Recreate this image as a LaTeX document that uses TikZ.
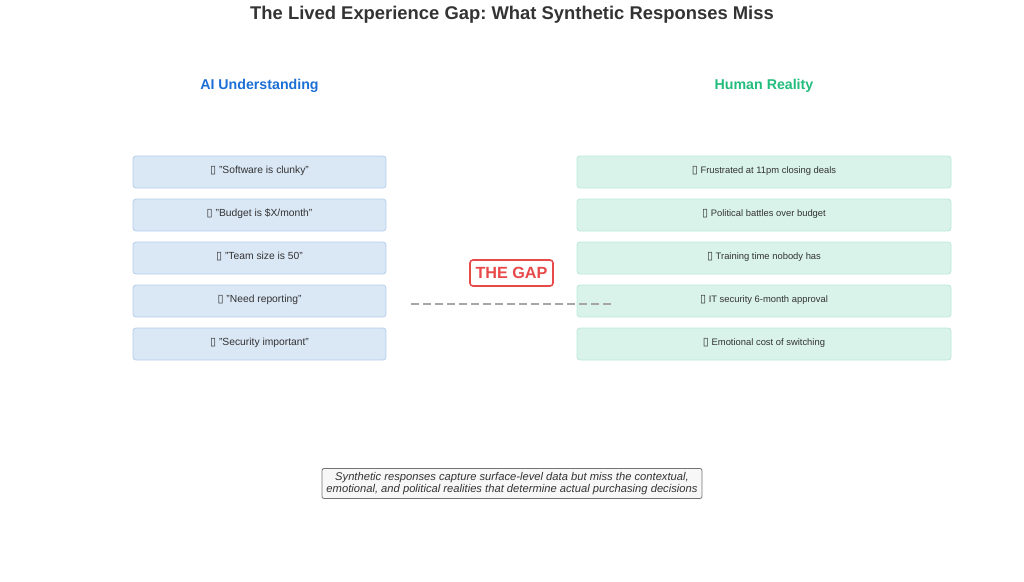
\documentclass[tikz,border=0pt]{standalone}
\usepackage{fontspec}
\setmainfont{Liberation Sans}
\newfontfamily\symfont{DejaVu Sans}
\usetikzlibrary{calc}
\frenchspacing
\definecolor{titlegray}{HTML}{333333}
\definecolor{aiblue}{HTML}{1C6FD6}
\definecolor{humangreen}{HTML}{22BC7C}
\definecolor{aifill}{HTML}{DAE7F5}
\definecolor{aiedge}{HTML}{B5CEEA}
\definecolor{humanfill}{HTML}{D9F3EA}
\definecolor{humanedge}{HTML}{BCE8D6}
\definecolor{gapred}{HTML}{E84A4A}
\definecolor{notefill}{HTML}{F7F7F7}
\def\tofu{{\symfont\fontsize{11}{12}\selectfont\char"25AF}}
\tikzset{
	aibox/.style={draw=aiedge, fill=aifill, line width=0.8pt, rounded corners=3pt},
	humanbox/.style={draw=humanedge, fill=humanfill, line width=0.8pt, rounded corners=3pt},
	itemtext/.style={text=titlegray, font=\fontsize{10.3}{12}\selectfont, inner sep=0pt},
	heading/.style={font=\bfseries\fontsize{14.2}{16}\selectfont, inner sep=0pt}
}

\begin{document}
\begin{tikzpicture}[x=1pt, y=-1pt]
		%%%%% START %%%%%
		
		\useasboundingbox (0, 0) rectangle (1024, 581);
		
		\node[font=\bfseries\fontsize{18.4}{21}\selectfont, text=titlegray, inner sep=0pt] (title) at (512, 15) {The Lived Experience Gap: What Synthetic Responses Miss};
		
		\node[heading, text=aiblue] (aihead) at (259.5, 85.5) {AI Understanding};
		\node[heading, text=humangreen] (humanhead) at (764, 85.5) {Human Reality};
		
		% left column
		\foreach \i/\txt in {0/{"Software is clunky"}, 1/{"Budget is \$X/month"}, 2/{"Team size is 50"}, 3/{"Need reporting"}, 4/{"Security important"}} {
			\draw[aibox] (133, 156+43*\i) rectangle (386, 188+43*\i);
			\node[itemtext] (ai\i) at (259.5, 170.5+43*\i) {\tofu\ \txt};
		}
		
		% right column
		\foreach \i/\txt in {0/{Frustrated at 11pm closing deals}, 1/{Political battles over budget}, 2/{Training time nobody has}, 3/{IT security 6-month approval}, 4/{Emotional cost of switching}} {
			\draw[humanbox] (577, 156+43*\i) rectangle (951, 188+43*\i);
			\node[itemtext, font=\fontsize{9.4}{11}\selectfont] (human\i) at (764, 170.5+43*\i) {\tofu\ \txt};
		}
		
		\node[draw=gapred, fill=white, text=gapred, line width=1.6pt, rounded corners=3pt, font=\bfseries\fontsize{16.2}{18}\selectfont, minimum width=83, minimum height=26, inner sep=0pt] (gap) at (511.5, 273) {THE GAP};
		
		\coordinate (gapleft) at (411, 304);
		\coordinate (gapright) at (614, 304);
		\draw[color=black!35, line width=1.6pt, dash pattern=on 8pt off 4pt] (gapleft) -- (gapright);
		
		\node[draw=black!55, fill=notefill, rounded corners=2pt, line width=0.8pt, minimum width=380, minimum height=30, inner sep=0pt, text=titlegray, align=center, font=\itshape\fontsize{11.2}{12}\selectfont] (note) at (512, 483.5) {Synthetic responses capture surface-level data but miss the contextual,\\emotional, and political realities that determine actual purchasing decisions};
		
		%%%%% END %%%%%
	\end{tikzpicture}
\end{document}
